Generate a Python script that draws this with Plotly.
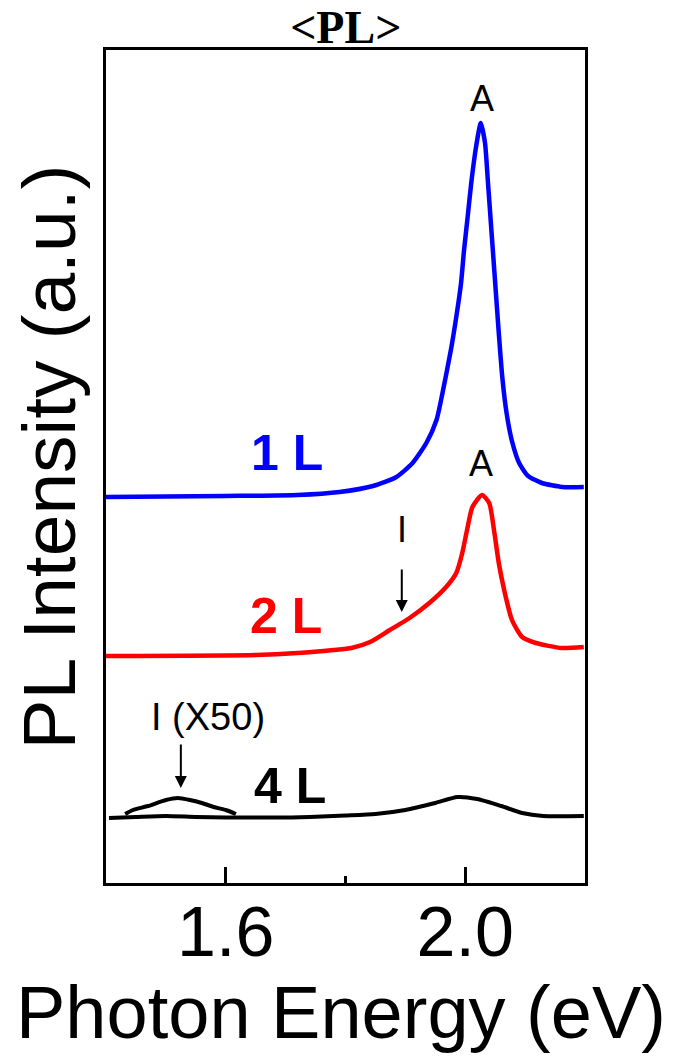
import plotly.graph_objects as go

# ---- data ----
energy_1L = [1.40, 1.60, 1.72, 1.79, 1.846, 1.885, 1.912, 1.935, 1.952, 1.962, 1.976,
             1.985, 1.993, 1.998, 2.004, 2.010, 2.018, 2.026, 2.033, 2.038, 2.044, 2.050,
             2.056, 2.062, 2.069, 2.078, 2.090, 2.105, 2.128, 2.162, 2.198]
intensity_1L = [3.86, 3.87, 3.88, 3.91, 3.97, 4.06, 4.20, 4.40, 4.63, 4.90, 5.33,
                5.66, 6.00, 6.33, 6.66, 7.00, 7.36, 7.60, 7.40, 7.00, 6.50, 6.00,
                5.50, 5.05, 4.70, 4.42, 4.20, 4.07, 4.00, 3.96, 3.96]

energy_2L = [1.40, 1.65, 1.72, 1.78, 1.81, 1.841, 1.874, 1.907, 1.940, 1.968, 1.985,
             1.995, 2.003, 2.012, 2.028, 2.040, 2.048, 2.056, 2.065, 2.078, 2.095,
             2.118, 2.161, 2.198]
intensity_2L = [2.27, 2.28, 2.30, 2.33, 2.35, 2.41, 2.53, 2.65, 2.80, 2.96, 3.10,
                3.30, 3.53, 3.76, 3.88, 3.80, 3.53, 3.20, 2.93, 2.63, 2.46,
                2.40, 2.35, 2.36]

energy_4L = [1.405, 1.45, 1.50, 1.55, 1.60, 1.70, 1.76, 1.80, 1.85, 1.90, 1.95, 1.987,
             2.02, 2.06, 2.095, 2.13, 2.198]
intensity_4L = [0.65, 0.66, 0.67, 0.66, 0.655, 0.655, 0.665, 0.675, 0.69, 0.73, 0.80, 0.86,
                0.84, 0.77, 0.70, 0.67, 0.67]

energy_4L_x50 = [1.432, 1.445, 1.47, 1.50, 1.52, 1.54, 1.56, 1.58, 1.60, 1.617]
intensity_4L_x50 = [0.69, 0.73, 0.77, 0.83, 0.85, 0.83, 0.80, 0.76, 0.73, 0.69]

x_major_ticks = [1.6, 2.0]
x_tick_labels = ["1.6", "2.0"]
x_minor_ticks = [1.8]

SANS = "Liberation Sans, Arial, sans-serif"
SERIF = "Liberation Serif, Times New Roman, serif"

fig = go.Figure()
fig.add_trace(go.Scatter(x=energy_1L, y=intensity_1L, mode="lines",
                         line=dict(color="#0000ff", width=4.5, shape="spline", smoothing=0.6)))
fig.add_trace(go.Scatter(x=energy_2L, y=intensity_2L, mode="lines",
                         line=dict(color="#ff0000", width=4.5, shape="spline", smoothing=0.6)))
fig.add_trace(go.Scatter(x=energy_4L, y=intensity_4L, mode="lines",
                         line=dict(color="#000000", width=4, shape="spline", smoothing=0.6)))
fig.add_trace(go.Scatter(x=energy_4L_x50, y=intensity_4L_x50, mode="lines",
                         line=dict(color="#000000", width=4, shape="spline", smoothing=0.6)))

ann = []
ann.append(dict(x=2.028, y=7.85, text="A", showarrow=False, font=dict(size=36, color="black", family=SANS)))
ann.append(dict(x=2.027, y=4.20, text="A", showarrow=False, font=dict(size=36, color="black", family=SANS)))
ann.append(dict(x=1.703, y=4.30, text="<b>1 L</b>", showarrow=False, font=dict(size=50, color="#0000ff", family=SANS)))
ann.append(dict(x=1.701, y=2.67, text="<b>2 L</b>", showarrow=False, font=dict(size=50, color="#ff0000", family=SANS)))
ann.append(dict(x=1.708, y=0.97, text="<b>4 L</b>", showarrow=False, font=dict(size=50, color="black", family=SANS)))
ann.append(dict(x=1.894, y=3.54, text="I", showarrow=False, font=dict(size=36, color="black", family=SANS)))
ann.append(dict(x=1.570, y=1.66, text="I (X50)", showarrow=False, font=dict(size=38, color="black", family=SANS)))
# arrows
ann.append(dict(x=1.894, y=2.71, ax=1.894, ay=3.15, axref="x", ayref="y", text="",
                showarrow=True, arrowhead=2, arrowsize=1.2, arrowwidth=2, arrowcolor="black"))
ann.append(dict(x=1.525, y=0.95, ax=1.525, ay=1.40, axref="x", ayref="y", text="",
                showarrow=True, arrowhead=2, arrowsize=1.2, arrowwidth=2, arrowcolor="black"))
# axis titles
ann.append(dict(xref="paper", yref="paper", x=0.49, y=0, yanchor="top", xanchor="center",
                yshift=-86, text="Photon Energy (eV)", showarrow=False,
                font=dict(size=74, color="black", family=SANS)))
ann.append(dict(xref="paper", yref="paper", x=0, y=0.5, xanchor="right", yanchor="middle",
                xshift=-14, yshift=10, textangle=-90, text="PL Intensity (a.u.)", showarrow=False,
                font=dict(size=75, color="black", family=SANS)))

fig.update_layout(
    width=678, height=1058,
    margin=dict(l=106, r=93, t=50, b=175),
    paper_bgcolor="white", plot_bgcolor="white",
    showlegend=False,
    title=dict(text="<b>&lt;PL&gt;</b>", x=0.51, xanchor="center", y=1 - 27 / 1058,
               yanchor="middle", yref="container",
               font=dict(size=46, color="black", family=SERIF)),
    annotations=ann,
)
fig.update_xaxes(range=[1.4, 2.2], showline=True, linecolor="black", linewidth=3, mirror=True,
                 showgrid=False, zeroline=False,
                 ticks="inside", tickvals=x_major_ticks, ticktext=x_tick_labels,
                 ticklen=16, tickwidth=2.5, tickcolor="black",
                 ticklabelstandoff=-14,
                 tickfont=dict(size=70, color="black", family=SANS),
                 minor=dict(tickvals=x_minor_ticks, ticks="inside", ticklen=7, tickwidth=2.5,
                            tickcolor="black", showgrid=False))
fig.update_yaxes(range=[0, 8.33], showline=True, linecolor="black", linewidth=3, mirror=True,
                 showgrid=False, zeroline=False, ticks="", showticklabels=False)

fig.write_html("out.html")
